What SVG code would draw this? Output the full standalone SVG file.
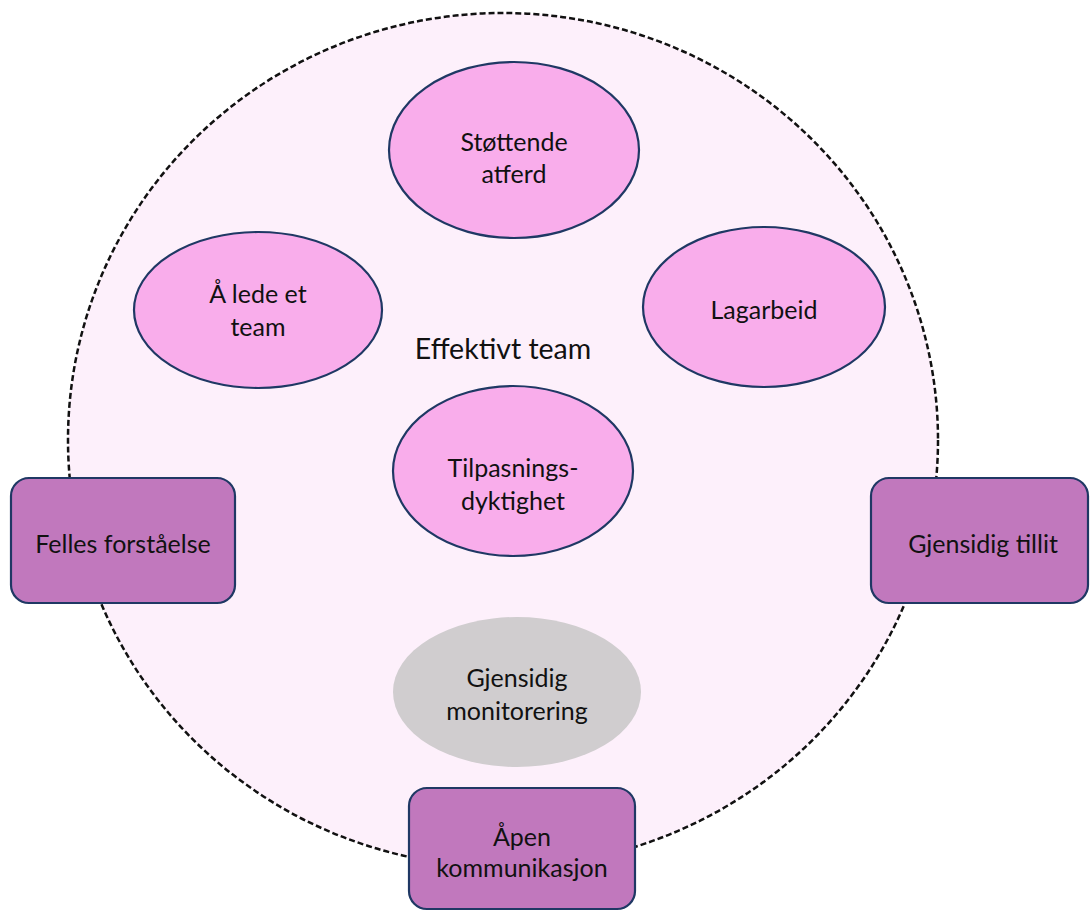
<svg xmlns="http://www.w3.org/2000/svg" width="1090" height="911" viewBox="0 0 1090 911">
  <style>
    .lbl { font-family: Lato, "Open Sans", "Liberation Sans", sans-serif; font-size: 25px; fill: #111111; text-anchor: middle; dominant-baseline: central; }
    .title { font-size: 28.5px; }
    .skill { fill: #f9adeb; stroke: #1f3864; stroke-width: 2.2; }
    .monitor { fill: #d0cdcf; stroke: none; }
    .base { fill: #c178bd; stroke: #1f3864; stroke-width: 2.2; }
    .team { fill: #fdf0fb; stroke: #111111; stroke-width: 2.5; stroke-dasharray: 6 3; }
  </style>
  <rect width="1090" height="911" fill="#ffffff"/>

  <!-- outer team boundary -->
  <g id="team">
    <ellipse class="team" cx="503" cy="440" rx="435" ry="427"/>
    <text class="lbl title" x="503" y="348">Effektivt team</text>
  </g>

  <g id="stottende-atferd">
    <ellipse class="skill" cx="514" cy="150" rx="125" ry="88"/>
    <text class="lbl" x="514" y="141">Støttende</text>
    <text class="lbl" x="514" y="173">atferd</text>
  </g>

  <g id="a-lede-et-team">
    <ellipse class="skill" cx="258" cy="310" rx="124" ry="78"/>
    <text class="lbl" x="258" y="293">Å lede et</text>
    <text class="lbl" x="258" y="326">team</text>
  </g>

  <g id="lagarbeid">
    <ellipse class="skill" cx="764" cy="307" rx="121" ry="80"/>
    <text class="lbl" x="764" y="309">Lagarbeid</text>
  </g>

  <g id="tilpasningsdyktighet">
    <ellipse class="skill" cx="513" cy="471" rx="120" ry="85"/>
    <text class="lbl" x="513" y="467">Tilpasnings-</text>
    <text class="lbl" x="513" y="500">dyktighet</text>
  </g>

  <g id="gjensidig-monitorering">
    <ellipse class="monitor" cx="517" cy="692" rx="124" ry="75"/>
    <text class="lbl" x="517" y="677">Gjensidig</text>
    <text class="lbl" x="517" y="710">monitorering</text>
  </g>

  <g id="felles-forstaelse">
    <rect class="base" x="11" y="478" width="224" height="125" rx="18"/>
    <text class="lbl" x="123" y="543">Felles forståelse</text>
  </g>

  <g id="gjensidig-tillit">
    <rect class="base" x="871" y="478" width="217" height="125" rx="18"/>
    <text class="lbl" x="983" y="543">Gjensidig tillit</text>
  </g>

  <g id="apen-kommunikasjon">
    <rect class="base" x="409" y="788" width="226" height="121" rx="18"/>
    <text class="lbl" x="522" y="836">Åpen</text>
    <text class="lbl" x="522" y="867">kommunikasjon</text>
  </g>

  <g id="connectors"></g>
</svg>
